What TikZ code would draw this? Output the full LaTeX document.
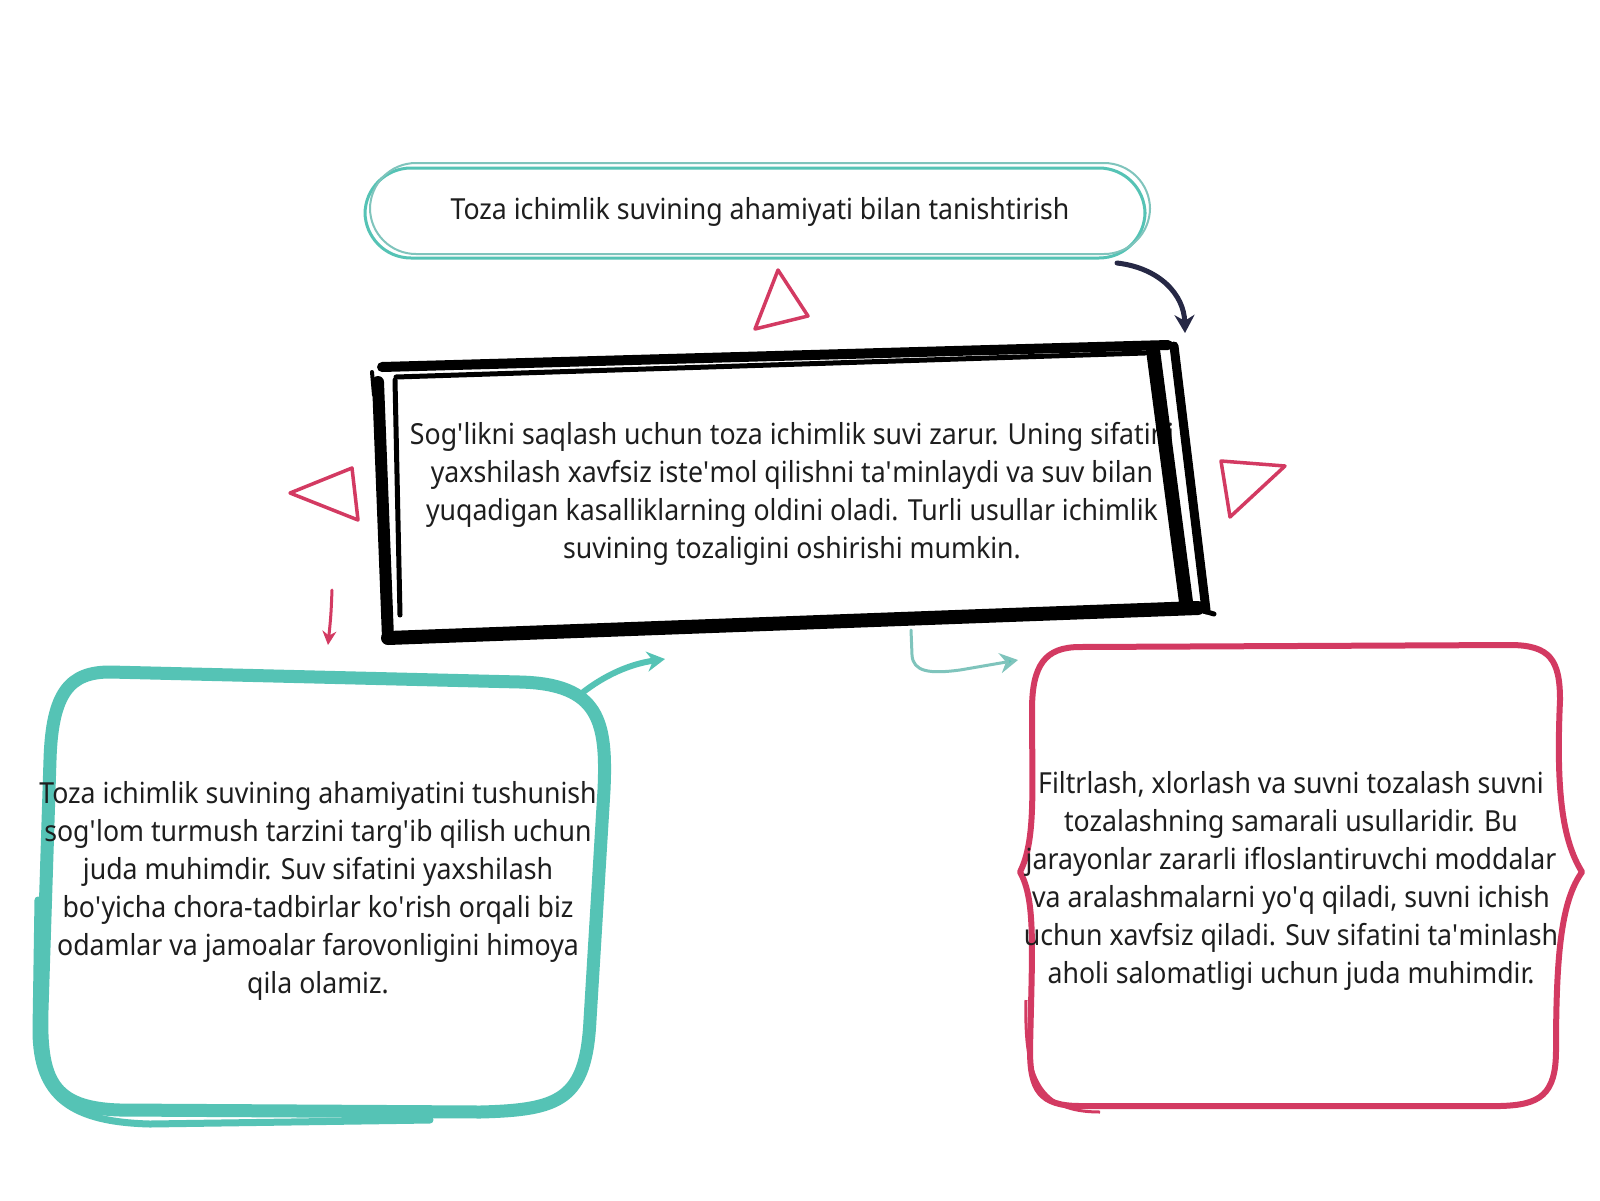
\documentclass[tikz,border=0pt]{standalone}
\usepackage{fontspec}
\setmainfont[FakeStretch=0.92]{Noto Sans}
\usetikzlibrary{arrows.meta}
\definecolor{teal1}{HTML}{55C3B5}
\definecolor{teal2}{HTML}{7FC4BC}
\definecolor{crim}{HTML}{D33A62}
\definecolor{navy}{HTML}{262845}
\definecolor{ink}{HTML}{1E1E1E}
\newcommand\apo{\textquotesingle}
\tikzset{
  txt/.style={align=center, text=ink, font=\fontsize{29}{38}\selectfont, inner sep=0pt},
  tri/.style={draw=crim, line width=3.5pt, line join=round},
  arr/.style={line cap=round, -{Stealth[length=18pt,width=20pt]}},
  ink stroke/.style={draw=black, line cap=round, line join=round},
}
\begin{document}
\begin{tikzpicture}[x=1pt,y=-1pt]
\useasboundingbox (0,0) rectangle (1600,1200);
\fill[white] (0,0) rectangle (1600,1200);

% top pill
\draw[teal1, line width=3pt, rounded corners=46pt] (365,168) rectangle (1145,258);
\draw[teal2, line width=2pt, rounded corners=46pt] (370,163) rectangle (1150,254);
\node[txt] (pill) at (760,212) {Toza ichimlik suvining ahamiyati bilan tanishtirish};

% central box
\node[txt] (ctr) at (792,494) {Sog\apo likni saqlash uchun toza ichimlik suvi zarur. Uning sifatini\\
yaxshilash xavfsiz iste\apo mol qilishni ta\apo minlaydi va suv bilan\\
yuqadigan kasalliklarning oldini oladi. Turli usullar ichimlik\\
suvining tozaligini oshirishi mumkin.};
\draw[ink stroke, line width=10pt] (382,367) -- (1168,345);
\draw[ink stroke, line width=5pt] (396,377) -- (1145,353);
\draw[ink stroke, line width=12pt] (378,382) -- (388,638);
\draw[ink stroke, line width=5pt] (395,380) -- (400,615);
\draw[ink stroke, line width=4pt] (372,372) -- (374,395);
\draw[ink stroke, line width=14pt] (388,638) -- (1198,608);
\draw[ink stroke, line width=5pt] (1180,604) -- (1214,614);
\draw[ink stroke, line width=14pt] (1153,350) -- (1186,602);
\draw[ink stroke, line width=9pt] (1174,346) -- (1206,610);

% left box
\draw[teal1, line width=13pt, line join=round, line cap=round]
  (110,672) -- (520,682) .. controls (600,684) and (607,722) .. (604,790)
  -- (590,1020) .. controls (586,1100) and (560,1110) .. (480,1112)
  -- (120,1110) .. controls (52,1108) and (40,1080) .. (42,1010)
  -- (50,760) .. controls (52,692) and (70,672) .. (110,672) -- cycle;
\draw[teal1, line width=7pt, line cap=round]
  (38,900) -- (36,1030) .. controls (36,1098) and (72,1122) .. (150,1124) -- (430,1120);
\node[txt] (lft) at (318,891) {Toza ichimlik suvining ahamiyatini tushunish\\
sog\apo lom turmush tarzini targ\apo ib qilish uchun\\
juda muhimdir. Suv sifatini yaxshilash\\
bo\apo yicha chora-tadbirlar ko\apo rish orqali biz\\
odamlar va jamoalar farovonligini himoya\\
qila olamiz.};

% right box
\draw[crim, line width=6pt, line join=round]
  (1080,647) -- (1510,645) .. controls (1550,645) and (1560,660) .. (1560,700)
  .. controls (1556,790) and (1562,840) .. (1582,872)
  .. controls (1562,900) and (1556,950) .. (1556,1050)
  .. controls (1556,1095) and (1540,1105) .. (1500,1106)
  -- (1080,1106) .. controls (1040,1106) and (1030,1090) .. (1030,1050)
  .. controls (1032,950) and (1036,900) .. (1020,872)
  .. controls (1036,840) and (1032,790) .. (1032,710)
  .. controls (1032,665) and (1045,647) .. (1080,647) -- cycle;
\draw[crim, line width=3pt]
  (1026,1000) .. controls (1024,1080) and (1040,1112) .. (1100,1112);
\node[txt] (rgt) at (1291,881) {Filtrlash, xlorlash va suvni tozalash suvni\\
tozalashning samarali usullaridir. Bu\\
jarayonlar zararli ifloslantiruvchi moddalar\\
va aralashmalarni yo\apo q qiladi, suvni ichish\\
uchun xavfsiz qiladi. Suv sifatini ta\apo minlash\\
aholi salomatligi uchun juda muhimdir.};

% triangles
\draw[tri] (778,270) -- (755,329) -- (808,316) -- cycle;
\draw[tri] (290,493) -- (352,468) -- (358,520) -- cycle;
\draw[tri] (1221,461) -- (1285,466) -- (1230,517) -- cycle;

% connectors
\coordinate (n1) at (1117,263);
\coordinate (n2) at (1185,333);
\draw[navy, line width=5pt, arr] (n1) .. controls (1160,268) and (1184,295) .. (n2);

\coordinate (c1) at (332,590);
\coordinate (c2) at (328,645);
\draw[crim, line width=3pt, line cap=round, -{Stealth[length=14pt,width=14pt]}] (c1) .. controls (331,615) .. (c2);

\coordinate (t1) at (582,693);
\coordinate (t2) at (665,659);
\draw[teal1, line width=6pt, arr] (t1) .. controls (605,675) and (630,664) .. (t2);

\coordinate (g1) at (911,630);
\coordinate (g2) at (1018,660);
\draw[teal2, line width=3pt, line cap=round, -{Stealth[length=18pt,width=20pt,fill=teal1]}]
  (g1) -- (912,655) .. controls (913,672) and (930,674) .. (960,670) -- (g2);
\end{tikzpicture}
\end{document}
